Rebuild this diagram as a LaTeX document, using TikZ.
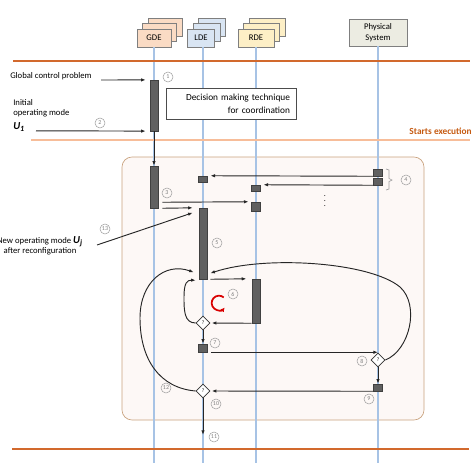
\documentclass[tikz,border=0pt]{standalone}
\usepackage{fontspec}
\setmainfont{Carlito}
\usetikzlibrary{shapes.geometric,arrows.meta,calc}
\definecolor{orD}{HTML}{D2692D}
\definecolor{orL}{HTML}{F7BD99}
\definecolor{lifeblue}{HTML}{A7C3E5}
\definecolor{gdefill}{HTML}{FADBC4}
\definecolor{ldefill}{HTML}{D9E5F3}
\definecolor{rdefill}{HTML}{FDEFC6}
\definecolor{phyfill}{HTML}{ECECE2}
\definecolor{headborder}{HTML}{7F7F7F}
\definecolor{bgfill}{HTML}{FDF8F6}
\definecolor{bgborder}{HTML}{C9A27E}
\definecolor{barfill}{HTML}{606060}
\definecolor{barline}{HTML}{404040}
\definecolor{numgray}{HTML}{A0A0A0}
\definecolor{numtext}{HTML}{808080}
\definecolor{startsC}{HTML}{C55A11}
\begin{document}
\begin{tikzpicture}[x=0.75pt,y=-0.75pt,
  arr/.style={-{Latex[length=3.5pt,width=2.6pt]}, line width=0.7pt, black!85},
  bar/.style={draw=barline, fill=barfill, line width=0.4pt, inner sep=0, minimum width=6pt},
  sq/.style={draw=barline, fill=barfill, line width=0.4pt, inner sep=0, minimum width=6.75pt},
  dia/.style={diamond, draw=black!80, fill=white, line width=0.6pt, inner sep=0, minimum width=10.5pt, minimum height=10.5pt, font=\fontsize{4}{4}\selectfont},
  num/.style={circle, draw=numgray, line width=0.4pt, text=numtext, minimum size=7.5pt, inner sep=0, font=\fontsize{4.5}{4.5}\selectfont},
  head/.style={draw=headborder, line width=0.5pt, minimum height=13.5pt, inner sep=0, font=\fontsize{6.5}{8}\selectfont},
  life/.style={lifeblue, line width=1.1pt},
  lbl/.style={font=\fontsize{6.5}{7.8}\selectfont, inner sep=0}]
\useasboundingbox (0,0) rectangle (475,471);

% background frame
\draw[draw=bgborder, fill=bgfill, rounded corners=7.5pt, line width=0.5pt] (122,157) rectangle (424,420);

% headers
\node[head, fill=gdefill, minimum width=25.5pt] (gdeB2) at (165,27) {};
\node[head, fill=gdefill, minimum width=25.5pt] (gdeB1) at (159.5,32.5) {};
\node[head, fill=gdefill, minimum width=25.5pt] (gde) at (154,38) {GDE};
\node[head, fill=ldefill, minimum width=20.25pt] (ldeB2) at (212,27) {};
\node[head, fill=ldefill, minimum width=20.25pt] (ldeB1) at (206.5,32.5) {};
\node[head, fill=ldefill, minimum width=20.25pt] (lde) at (201,38) {LDE};
\node[head, fill=rdefill, minimum width=27pt] (rdeB2) at (267,27) {};
\node[head, fill=rdefill, minimum width=27pt] (rdeB1) at (261.5,32.5) {};
\node[head, fill=rdefill, minimum width=27pt] (rde) at (256,38) {RDE};
\node[head, fill=phyfill, minimum width=43.5pt, minimum height=20.25pt, align=center] (phy) at (378,32.5) {Physical\\System};

% lifelines
\coordinate (gT) at (154,47); \coordinate (gB) at (154,463);
\coordinate (lT) at (203,47); \coordinate (lB) at (203,463);
\coordinate (rT) at (256,47); \coordinate (rB) at (256,463);
\coordinate (pT) at (378,46); \coordinate (pB) at (378,463);
\draw[life] (gT) -- (gB);
\draw[life] (lT) -- (lB);
\draw[life] (rT) -- (rB);
\draw[life] (pT) -- (pB);

% orange lines
\coordinate (o1a) at (13,61); \coordinate (o1b) at (470,61);
\coordinate (o2a) at (31,140); \coordinate (o2b) at (470,140);
\coordinate (o3a) at (12,449); \coordinate (o3b) at (469,449);
\draw[orD, line width=1.6pt] (o1a) -- (o1b);
\draw[orL, line width=2pt] (o2a) -- (o2b);
\draw[orD, line width=1.6pt] (o3a) -- (o3b);
\node[anchor=east, font=\bfseries\fontsize{7}{8}\selectfont, text=startsC, inner sep=0] (se) at (472,131) {Starts execution};

% decision box
\node[draw=black!70, fill=white, line width=0.5pt, minimum height=23.25pt, inner xsep=4.5pt, text width=88.5pt, align=right, font=\fontsize{7}{9.75}\selectfont] (dec) at (231,103.5) {Decision making technique\\for coordination};

% left texts
\node[lbl, anchor=west] (gcp) at (10,76) {Global control problem};
\node[lbl, anchor=north west, align=left] (init) at (13,99) {Initial\\operating mode};
\node[anchor=west, inner sep=0, font=\fontsize{8}{8}\selectfont] (u1) at (13,127) {\textbf{\textit{U}}\textsubscript{\textbf{\textit{1}}}};
\node[lbl, align=center] (nom) at (40,246) {New operating mode {\fontsize{8}{8}\selectfont\textbf{\textit{U\textsubscript{j}}}}\\after reconfiguration};

% activation bars and boxes
\node[bar, minimum height=38pt] (bar1) at (154,105.5) {};
\node[bar, minimum height=31.5pt] (bar2) at (154,187) {};
\node[sq, minimum height=4.5pt] (ldeS) at (203,179) {};
\node[sq, minimum height=5.25pt] (phyA) at (378,172.5) {};
\node[sq, minimum height=5.25pt] (phyB) at (378,181.5) {};
\node[sq, minimum height=4.5pt] (rdeS) at (256,188) {};
\node[sq, minimum height=6.75pt] (rdeQ) at (256,206.5) {};
\node[bar, minimum height=53.25pt] (ldeBar) at (203,243.5) {};
\node[bar, minimum height=33pt] (rdeBar) at (256,301) {};
\node[dia] (dia6) at (203,323) {?};
\node[sq, minimum height=6pt] (box7) at (203,348) {};
\node[dia] (dia8) at (378,360) {?};
\node[sq, minimum height=5.25pt] (box9) at (378,387.5) {};
\node[dia] (dia10) at (203,391) {?};

% connectors
\coordinate (gcpA) at (101,80);
\draw[arr, shorten >=3pt] (gcpA) -- (bar1.north west);
\coordinate (initA) at (36,130.8);
\draw[arr, shorten >=3pt] (initA) -- (bar1.south west);
\draw[arr] (bar1.south) -- (bar2.north);
\draw[arr, shorten >=2pt] (phyA.south west) -- (ldeS.north east);
\draw[arr, shorten >=2pt] (phyB.south west) -- (rdeS.north east);
\draw[arr, shorten >=2pt] ($(bar2.south east)+(4,-6)$) -- (rdeQ.north west);
\draw[arr, shorten >=4.5pt] ($(bar2.south east)+(4,0)$) -- (ldeBar.north west);
\coordinate (nomA) at (97,245);
\draw[arr] (nomA) -- ($(ldeBar.north west)+(-6,5)$);
\draw[arr] (dia8.east) .. controls (410,350) and (420,305) .. (400,287) .. controls (370,262) and (265,255) .. ($(ldeBar.south east)+(3,-6)$);
\draw[arr] (dia10.west) .. controls (160,388) and (140,360) .. (140,318) .. controls (140,282) and (165,262) .. ($(ldeBar.south west)+(-5,-7)$);
\draw[arr, shorten >=4pt] ($(ldeBar.south east)+(3,0)$) -- (rdeBar.north west);
\draw[arr, shorten >=1pt] (rdeBar.south west) -- (dia6.east);
\draw[arr] (dia6.west) .. controls (184,323) and (184,310) .. (184,297) .. controls (184,283) and (187,280) .. ($(ldeBar.south west)+(-3,1)$);
\draw[arr] (dia6.south) -- (box7.north);
\draw[arr] ($(box7.south east)+(3,0)$) -- (dia8.north |- box7.south);
\draw[arr] (dia8.south) -- (box9.north);
\draw[arr, shorten >=1pt] (box9.south west) -- (dia10.east);
\coordinate (end11) at (203,435);
\draw[arr] (dia10.south) -- (end11);

% red cycle arrow
\coordinate (rc) at (219,303);
\draw[red!85!black, line width=1.3pt, -{Latex[length=3pt,width=3.5pt]}] ($(rc)+(50:5.5pt)$) arc[start angle=50, end angle=320, radius=5.5pt];

% bracket and dots
\draw[numgray, line width=0.5pt] (386,169) -- (389,170) -- (389,178.5) -- (392,180) -- (389,181.5) -- (389,189) -- (386,190);
\node[inner sep=0] (dots) at (325,197) {\fontsize{6}{6}\selectfont$\vdots$};

% numbers
\node[num] (n1) at (168,77) {1};
\node[num] (n2) at (100,123) {2};
\node[num] (n3) at (167,193) {3};
\node[num] (n4) at (406,180) {4};
\node[num] (n5) at (217,243) {5};
\node[num] (n6) at (233,294) {6};
\node[num] (n7) at (215,343) {7};
\node[num] (n8) at (362,361) {8};
\node[num] (n9) at (369,399) {9};
\node[num] (n10) at (216,404) {10};
\node[num] (n11) at (214,437) {11};
\node[num] (n12) at (166,388) {12};
\node[num] (n13) at (105,229) {13};
\end{tikzpicture}
\end{document}
